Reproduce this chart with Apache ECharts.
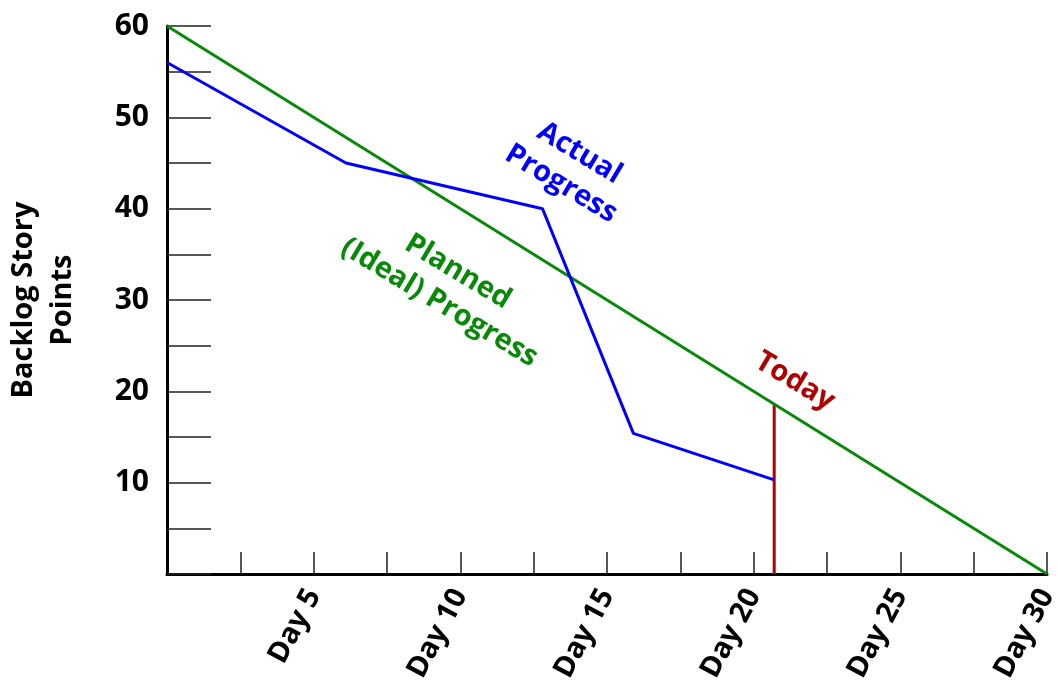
<!DOCTYPE html>
<html>
<head>
<meta charset="utf-8">
<script src="https://cdn.jsdelivr.net/npm/echarts@6/dist/echarts.min.js"></script>
<style>
  html, body { margin: 0; padding: 0; background: #fff; }
  #chart { width: 1058px; height: 685px; }
</style>
</head>
<body>
<div id="chart"></div>
<script>
// Sprint burndown: planned (ideal) line vs. actual remaining backlog
const plannedDays = [0, 30];
const plannedPoints = [60, 0];

const actualDays = [0, 6.1, 12.8, 15.9, 20.7];
const actualPoints = [56, 45, 40, 15.4, 10.3];

const todayDay = 20.7;

const yTickLabels = [10, 20, 30, 40, 50, 60];
const xTickLabelDays = [5, 10, 15, 20, 25, 30];

const FONT = '"Open Sans"';
const BLUE = '#0000ff';
const GREEN = '#088a08';
const RED = '#b00000';

// planned backlog at a given day
function plannedAt(day) {
  const t = (day - plannedDays[0]) / (plannedDays[1] - plannedDays[0]);
  return plannedPoints[0] + t * (plannedPoints[1] - plannedPoints[0]);
}

const chart = echarts.init(document.getElementById('chart'), null, { renderer: 'canvas' });

const noteLabel = (color) => ({
  show: true,
  color: color,
  fontFamily: FONT,
  fontWeight: 'bold',
  fontSize: 29,
  lineHeight: 36,
  align: 'center',
  verticalAlign: 'middle',
  rotate: -31,
  position: 'inside'
});

chart.setOption({
  animation: false,
  backgroundColor: '#ffffff',
  grid: { left: 167, right: 11, top: 26, bottom: 111, containLabel: false, outerBoundsMode: 'none' },
  xAxis: {
    type: 'value',
    min: 0,
    max: 30,
    interval: 2.5,
    splitLine: { show: false },
    axisLine: { show: true, onZero: false, lineStyle: { color: '#000', width: 3 } },
    axisTick: { show: true, inside: true, length: 22, lineStyle: { color: '#222', width: 1.5 } },
    axisLabel: {
      show: true,
      rotate: 62,
      margin: 17,
      color: '#000',
      fontFamily: FONT,
      fontWeight: 'bold',
      fontSize: 29,
      showMinLabel: false,
      hideOverlap: false,
      formatter: (v) => (xTickLabelDays.indexOf(v) >= 0 ? 'Day ' + v : '')
    }
  },
  yAxis: {
    type: 'value',
    min: 0,
    max: 60,
    interval: 5,
    name: 'Backlog Story\nPoints',
    nameLocation: 'middle',
    nameRotate: 90,
    nameGap: 85,
    nameTextStyle: {
      color: '#000',
      fontFamily: FONT,
      fontWeight: 'bold',
      fontSize: 29,
      lineHeight: 39,
      align: 'center'
    },
    splitLine: { show: false },
    axisLine: { show: true, onZero: false, lineStyle: { color: '#000', width: 3 } },
    axisTick: { show: true, inside: true, length: 44, lineStyle: { color: '#222', width: 1.5 } },
    axisLabel: {
      show: true,
      margin: 18,
      color: '#000',
      fontFamily: FONT,
      fontWeight: 'bold',
      fontSize: 30,
      formatter: (v) => (yTickLabels.indexOf(v) >= 0 ? String(v) : '')
    }
  },
  series: [
    {
      name: 'Planned (Ideal) Progress',
      type: 'line',
      data: plannedDays.map((d, i) => [d, plannedPoints[i]]),
      symbol: 'none',
      lineStyle: { color: GREEN, width: 3 },
      z: 3,
      markPoint: {
        symbol: 'circle',
        symbolSize: 0,
        silent: true,
        data: [{ coord: [9.6, 31.4], value: 'Planned\n(Ideal) Progress' }],
        label: Object.assign(noteLabel(GREEN), { formatter: '{c}' })
      }
    },
    {
      name: 'Actual Progress',
      type: 'line',
      data: actualDays.map((d, i) => [d, actualPoints[i]]),
      symbol: 'none',
      lineStyle: { color: BLUE, width: 3 },
      z: 4,
      markPoint: {
        symbol: 'circle',
        symbolSize: 0,
        silent: true,
        data: [{ coord: [13.75, 44.4], value: 'Actual\nProgress' }],
        label: Object.assign(noteLabel(BLUE), { formatter: '{c}' })
      }
    },
    {
      name: 'Today',
      type: 'line',
      data: [[todayDay, 0], [todayDay, plannedAt(todayDay)]],
      symbol: 'none',
      lineStyle: { color: RED, width: 3 },
      z: 2,
      markPoint: {
        symbol: 'circle',
        symbolSize: 0,
        silent: true,
        data: [{ coord: [21.4, 21.1], value: 'Today' }],
        label: Object.assign(noteLabel(RED), { formatter: '{c}' })
      }
    }
  ]
});
</script>
</body>
</html>
